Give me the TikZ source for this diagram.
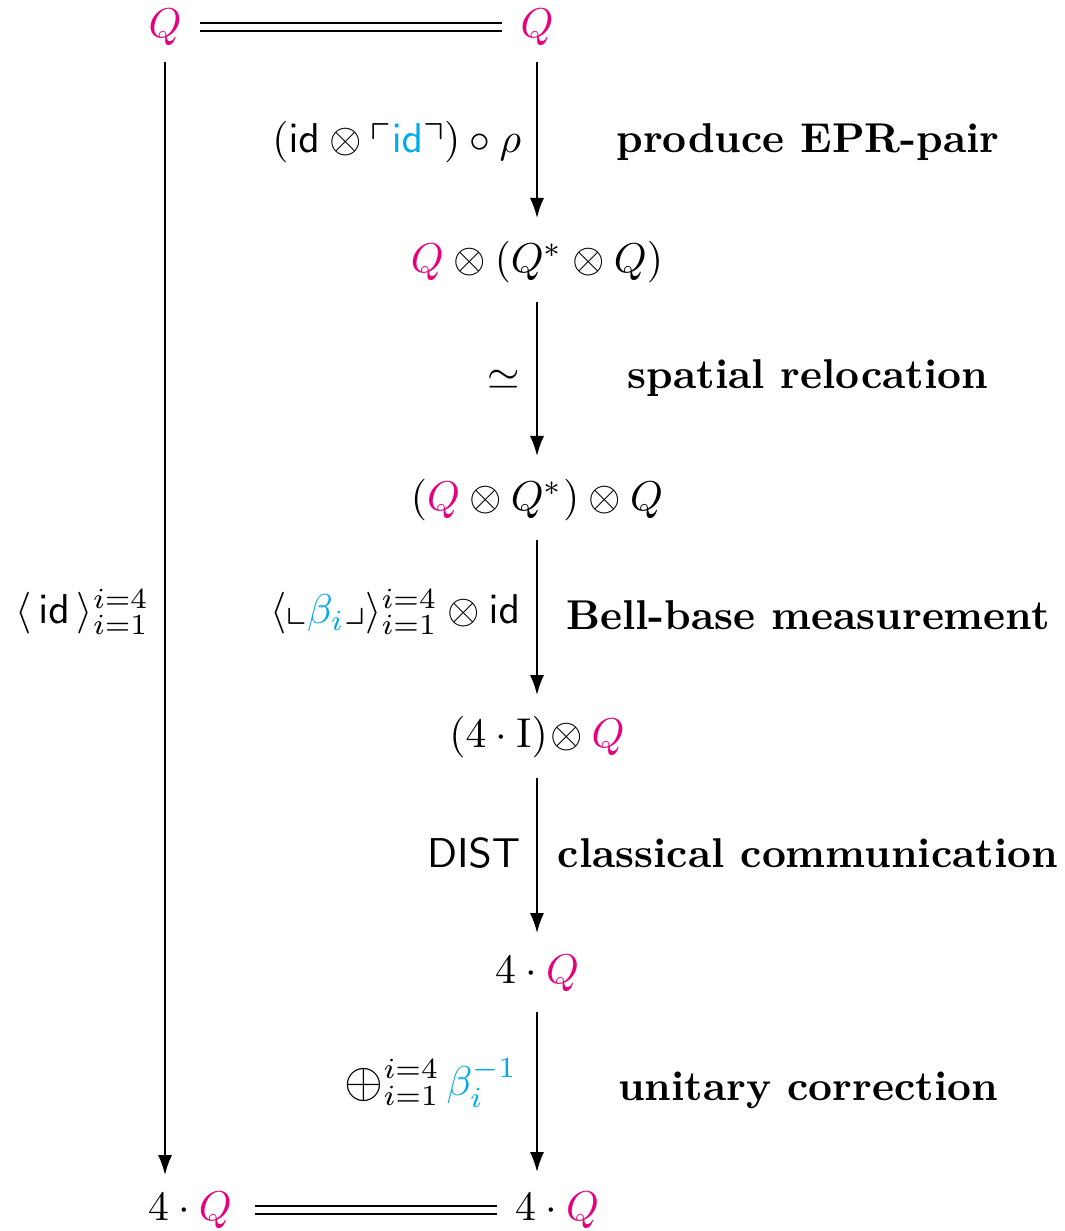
\documentclass[tikz,border=0pt]{standalone}
\usepackage{amsmath,amssymb}
\usetikzlibrary{arrows.meta}
\definecolor{qmag}{RGB}{230,0,126}
\definecolor{bcyan}{RGB}{0,170,235}
\newcommand{\Qm}{{\color{qmag}Q}}
\newcommand{\bc}[1]{{\color{bcyan}#1}}
\newcommand{\myoplus}{\mathop{\vcenter{\hbox{\scalebox{1.2}{$\oplus$}}}}\nolimits}
\begin{document}
\begin{tikzpicture}[x=0.24pt,y=-0.24pt,
  obj/.style={inner sep=0pt},
  mlab/.style={inner sep=0pt, anchor=east},
  blab/.style={inner sep=0pt, font=\bfseries},
  arr/.style={-{Latex[length=4.8pt,width=3.4pt]}, line width=0.45pt},
  eqline/.style={double, double distance=1.6pt, line width=0.5pt}]
\useasboundingbox (0,0) rectangle (1064,1231);
% objects
\node[obj] (q1) at (165,27) {$\Qm$};
\node[obj] (q2) at (537,27) {$\Qm$};
\node[obj] (n1) at (537,262) {$\Qm\otimes(Q^{*}\otimes Q)$};
\node[obj] (n2) at (537,500) {$(\Qm\otimes Q^{*})\otimes Q$};
\node[obj] (n3) at (537,737) {$(4\cdot\mathrm{I})\!\otimes\Qm$};
\node[obj] (n4) at (537,973) {$4\cdot\Qm$};
\node[obj] (bl) at (190,1210) {$4\cdot\Qm$};
\node[obj] (br) at (557,1210) {$4\cdot\Qm$};
% equalities
\draw[eqline, shorten <=8.4pt, shorten >=8.4pt] (q1.center) -- (q2.center);
\draw[eqline, shorten <=15.6pt, shorten >=14.4pt] (bl.center) -- (br.center);
% arrows
\draw[arr, shorten <=8.4pt, shorten >=8.4pt] (q1.center) -- (q1.center |- bl.center);
\draw[arr, shorten <=8.4pt, shorten >=10.56pt] (q2.center) -- (n1.center);
\draw[arr, shorten <=9.6pt, shorten >=10.56pt] (n1.center) -- (n2.center);
\draw[arr, shorten <=9.6pt, shorten >=10.08pt] (n2.center) -- (n3.center);
\draw[arr, shorten <=9.84pt, shorten >=9.6pt] (n3.center) -- (n4.center);
\draw[arr, shorten <=9.36pt, shorten >=9.12pt] (n4.center) -- (n4.center |- br.center);
% arrow labels
\node[mlab] (l0) at (150,612) {$\langle\,\mathsf{id}\,\rangle_{i=1}^{i=4}$};
\node[mlab] (l1) at (522,142) {$(\mathsf{id}\otimes{\ulcorner}\bc{\mathsf{id}}{\urcorner})\circ\rho$};
\node[mlab] (l2) at (521,380) {$\simeq$};
\node[mlab] (l3) at (521,612) {$\langle{\llcorner}\bc{\beta_i}{\lrcorner}\rangle_{i=1}^{i=4}\otimes\mathsf{id}$};
\node[mlab] (l4) at (521,853) {$\mathsf{DIST}$};
\node[mlab] (l5) at (518,1083) {$\myoplus_{i=1}^{i=4}\bc{\beta_i^{-1}}$};
% descriptions
\node[blab] (d1) at (808,142) {produce EPR-pair};
\node[blab] (d2) at (808,378) {spatial relocation};
\node[blab] (d3) at (808,615) {Bell-base measurement};
\node[blab] (d4) at (808,853) {classical communication};
\node[blab] (d5) at (808,1090) {unitary correction};
\end{tikzpicture}
\end{document}
